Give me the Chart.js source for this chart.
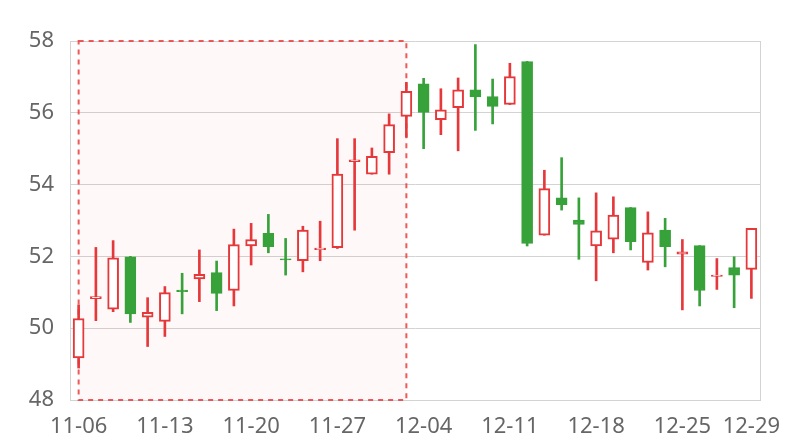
<!DOCTYPE html>
<html>
<head>
<meta charset="utf-8">
<script src="https://cdn.jsdelivr.net/npm/chart.js@4/dist/chart.umd.min.js"></script>
<style>
  html, body { margin: 0; padding: 0; background: #fff; }
  #wrap { width: 800px; height: 440px; }
</style>
</head>
<body>
<div id="wrap"><canvas id="kline"></canvas></div>
<script>
// dates des séances (40 jours de bourse)
const dates = [
  '11-06', '11-07', '11-08', '11-09', '11-10',
  '11-13', '11-14', '11-15', '11-16', '11-17',
  '11-20', '11-21', '11-22', '11-23', '11-24',
  '11-27', '11-28', '11-29', '11-30', '12-01',
  '12-04', '12-05', '12-06', '12-07', '12-08',
  '12-11', '12-12', '12-13', '12-14', '12-15',
  '12-18', '12-19', '12-20', '12-21', '12-22',
  '12-25', '12-26', '12-27', '12-28', '12-29'
];
const tickLabels = ['11-06', '11-13', '11-20', '11-27', '12-04', '12-11', '12-18', '12-25', '12-29'];

const opens = [
  49.17, 50.82, 50.53, 51.99, 50.31, 50.19, 51.06, 51.37, 51.55, 51.05,
  52.29, 52.64, 51.93, 51.88, 52.19, 52.24, 54.64, 54.29, 54.89, 55.90,
  56.81, 55.81, 56.14, 56.64, 56.45, 56.23, 57.43, 52.59, 53.63, 53.01,
  52.29, 52.48, 53.36, 51.83, 52.73, 52.06, 52.30, 51.44, 51.69, 51.64
];
const closes = [
  50.27, 50.88, 51.96, 50.40, 50.44, 50.99, 51.02, 51.50, 50.97, 52.33,
  52.47, 52.27, 51.90, 52.73, 52.23, 54.29, 54.69, 54.79, 55.67, 56.60,
  56.01, 56.08, 56.64, 56.44, 56.18, 57.01, 52.36, 53.89, 53.44, 52.89,
  52.71, 53.15, 52.41, 52.66, 52.27, 52.13, 51.05, 51.48, 51.48, 52.78
];
const lows = [
  48.89, 50.21, 50.46, 50.16, 49.49, 49.77, 50.40, 50.74, 50.49, 50.62,
  51.76, 52.10, 51.48, 51.57, 51.88, 52.22, 52.73, 54.29, 54.29, 55.32,
  55.00, 55.39, 54.94, 55.51, 55.69, 56.23, 52.29, 52.59, 53.29, 51.92,
  51.32, 52.10, 52.18, 51.62, 51.71, 50.51, 50.62, 51.08, 50.57, 50.83
];
const highs = [
  50.65, 52.25, 52.44, 52.00, 50.85, 51.16, 51.53, 52.18, 51.87, 52.76,
  52.92, 53.17, 52.50, 52.84, 52.98, 55.28, 55.28, 55.02, 55.97, 56.85,
  56.96, 56.67, 56.97, 57.90, 56.94, 57.38, 57.43, 54.40, 54.75, 53.63,
  53.77, 53.66, 53.36, 53.24, 53.06, 52.47, 52.30, 51.94, 51.99, 52.78
];

// zone surlignée
const zoneStart = '11-06';
const zoneEnd = '12-01';

const ROUGE = '#e5383b';
const VERT = '#37a13a';
const GRILLE = '#d3d3d3';

const hausse = opens.map((o, i) => closes[i] >= o);

const zonePlugin = {
  id: 'zone',
  beforeDatasetsDraw(chart) {
    const { ctx, chartArea, scales } = chart;
    const x1 = scales.x.getPixelForValue(dates.indexOf(zoneStart));
    const x2 = scales.x.getPixelForValue(dates.indexOf(zoneEnd));
    ctx.save();
    // bord droit du cadre
    ctx.strokeStyle = GRILLE;
    ctx.lineWidth = 1;
    ctx.beginPath();
    ctx.moveTo(Math.round(chartArea.right) + 0.5, chartArea.top);
    ctx.lineTo(Math.round(chartArea.right) + 0.5, chartArea.bottom);
    ctx.stroke();
    // zone rose
    ctx.fillStyle = 'rgba(255, 60, 60, 0.035)';
    ctx.fillRect(x1, chartArea.top, x2 - x1, chartArea.bottom - chartArea.top);
    ctx.setLineDash([5, 5]);
    ctx.lineWidth = 2;
    ctx.strokeStyle = 'rgba(235, 60, 60, 0.85)';
    ctx.strokeRect(x1, chartArea.top, x2 - x1, chartArea.bottom - chartArea.top);
    ctx.restore();
  }
};

new Chart(document.getElementById('kline'), {
  type: 'bar',
  data: {
    labels: dates,
    datasets: [
      {
        // corps des bougies
        data: opens.map((o, i) => [o, closes[i]]),
        backgroundColor: hausse.map(h => h ? '#ffffff' : VERT),
        borderColor: hausse.map(h => h ? ROUGE : VERT),
        borderWidth: 2,
        borderSkipped: false,
        barThickness: 11,
        grouped: false,
        order: 1
      },
      {
        // mèches
        data: lows.map((l, i) => [l, highs[i]]),
        backgroundColor: hausse.map(h => h ? ROUGE : VERT),
        borderWidth: 0,
        barThickness: 2,
        grouped: false,
        order: 2
      }
    ]
  },
  options: {
    responsive: true,
    maintainAspectRatio: false,
    animation: false,
    layout: { padding: { top: 41, right: 40, left: 0, bottom: 0 } },
    plugins: {
      legend: { display: false },
      tooltip: { enabled: false }
    },
    scales: {
      x: {
        grid: { display: false },
        border: { display: true, color: GRILLE },
        ticks: {
          autoSkip: false,
          maxRotation: 0,
          padding: 6,
          color: '#666',
          font: { family: 'Noto Sans', size: 22 },
          callback: function(value) {
            const lbl = this.getLabelForValue(value);
            return tickLabels.includes(lbl) ? lbl : '';
          }
        },
        afterFit(axis) { axis.height = 40; }
      },
      y: {
        min: 48,
        max: 58,
        grid: { color: GRILLE, drawTicks: false },
        border: { display: true, color: GRILLE },
        ticks: {
          stepSize: 2,
          padding: 16,
          color: '#666',
          font: { family: 'Noto Sans', size: 22 }
        },
        afterFit(axis) { axis.width = 70; }
      }
    }
  },
  plugins: [zonePlugin]
});
</script>
</body>
</html>
